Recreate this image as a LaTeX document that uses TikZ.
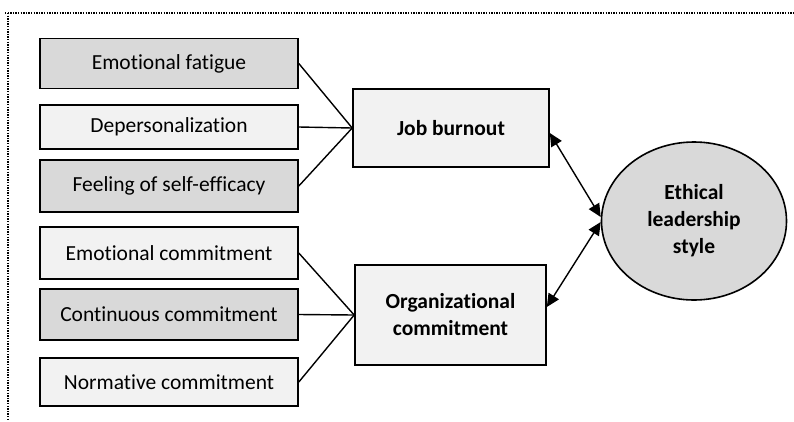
\documentclass[tikz,border=0pt]{standalone}
\usepackage{fontspec}
\setmainfont{Carlito}[RawFeature={-liga}]
\usetikzlibrary{arrows.meta,shapes.geometric}

\definecolor{boxgray}{HTML}{D9D9D9}
\definecolor{boxlight}{HTML}{F2F2F2}

\tikzset{
  dim/.style={draw, line width=1.6pt, minimum width=258pt, minimum height=50pt,
    inner sep=0pt, font=\fontsize{21.5}{25}\selectfont},
  dimgray/.style={dim, fill=boxgray},
  dimlight/.style={dim, fill=boxlight},
  factor/.style={draw, line width=1.6pt, fill=boxlight, inner sep=0pt, align=center,
    font=\fontsize{21.5}{27}\selectfont\bfseries},
  link/.style={line width=1.4pt},
  both/.style={line width=1.4pt, {Triangle[length=13pt,width=12pt]}-{Triangle[length=13pt,width=12pt]}}
}

\begin{document}
\begin{tikzpicture}[x=1pt,y=-1pt]
  % page frame
  \useasboundingbox (0,0) rectangle (794,421);
  \draw[dash pattern=on 1.3pt off 1.3pt, line width=1.3pt] (5,13) -- (794,13);
  \draw[dash pattern=on 1.3pt off 1.3pt, line width=1.3pt] (8,13) -- (8,421);

  % dimensions of job burnout
  \node[dimgray]  (fatigue) at (169,63.5) {Emotional fatigue};
  \node[dimlight, minimum height=44pt] (depers) at (169,127) {Depersonalization};
  \node[dimgray, minimum height=52pt]  (efficacy) at (169,186) {Feeling of self-efficacy};

  % dimensions of organizational commitment
  \node[dimlight, minimum height=52pt] (emocom) at (169,253) {Emotional commitment};
  \node[dimgray, minimum height=51pt]  (concom) at (169,314.5) {Continuous commitment};
  \node[dimlight, minimum height=48pt] (normcom) at (169,382) {Normative commitment};

  % the two factors
  \node[factor, minimum width=196pt, minimum height=78pt] (burnout) at (451,128) {Job burnout};
  \node[factor, minimum width=191pt, minimum height=100pt] (orgcom) at (450.5,315)
    {Organizational\\commitment};

  % leadership style
  \node[ellipse, draw, line width=1.6pt, fill=boxgray, minimum width=185pt,
    minimum height=158pt, inner sep=0pt, align=center,
    font=\fontsize{21.5}{27}\selectfont\bfseries] (ethical) at (694,221)
    {Ethical\\leadership\\style};

  % dimensions to factors
  \foreach \d in {fatigue,depers,efficacy}
    \draw[link] (\d.east) -- (burnout.west);
  \foreach \d in {emocom,concom,normcom}
    \draw[link] (\d.east) -- (orgcom.west);

  % factors to leadership style
  \draw[both] ([yshift=-5pt]burnout.east) -- ([yshift=4pt]ethical.west);
  \draw[both] ([yshift=8pt]orgcom.east) -- ([yshift=-1pt]ethical.west);
\end{tikzpicture}
\end{document}
